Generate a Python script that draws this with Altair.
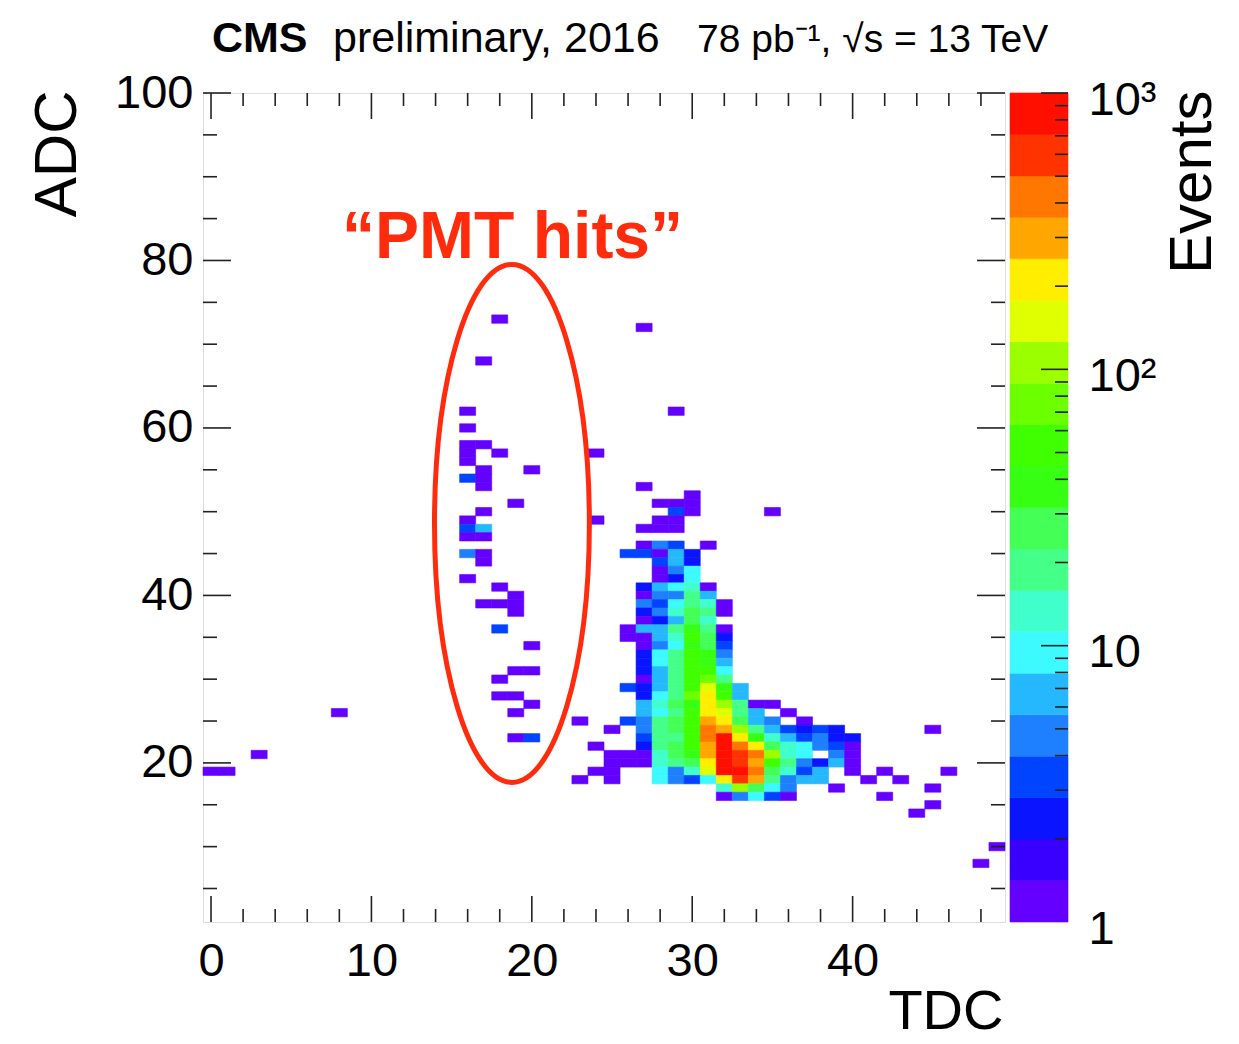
import altair as alt
import pandas as pd

FONT = "Liberation Sans"
RED = "#ff2b0d"
INK = "#222222"

# Occupancy of each (TDC, ADC) bin; one line per ADC row
tdc = [
    18,                                                        # ADC 73
    27,                                                        # 72
    17,                                                        # 68
    16, 29,                                                    # 62
    16,                                                        # 60
    16, 17,                                                    # 58
    16, 18, 24,                                                # 57
    16,                                                        # 56
    17, 20,                                                    # 55
    16, 17,                                                    # 54
    17, 27,                                                    # 53
    30,                                                        # 52
    19, 28, 29, 30,                                            # 51
    17, 29, 30, 35,                                            # 50
    16, 24, 28, 29,                                            # 49
    16, 17, 27, 28, 29,                                        # 48
    16, 17,                                                    # 47
    27, 28, 29, 31,                                            # 46
    16, 17, 26, 27, 28, 29, 30,                                # 45
    17, 28, 29, 30,                                            # 44
    28, 29, 30,                                                # 43
    16, 28, 29, 30,                                            # 42
    18, 27, 28, 29, 30, 31,                                    # 41
    19, 27, 28, 29, 30, 31,                                    # 40
    17, 18, 19, 27, 28, 29, 30, 31, 32,                        # 39
    19, 27, 28, 29, 30, 31, 32,                                # 38
    27, 28, 29, 30, 31,                                        # 37
    18, 26, 27, 28, 29, 30, 31, 32,                            # 36
    26, 27, 28, 29, 30, 31, 32,                                # 35
    20, 27, 28, 29, 30, 31, 32,                                # 34
    27, 28, 29, 30, 31, 32,                                    # 33
    27, 28, 29, 30, 31, 32,                                    # 32
    19, 20, 27, 28, 29, 30, 31, 32,                            # 31
    18, 27, 28, 29, 30, 31, 32,                                # 30
    26, 27, 28, 29, 30, 31, 32, 33,                            # 29
    18, 19, 27, 28, 29, 30, 31, 32, 33,                        # 28
    20, 27, 28, 29, 30, 31, 32, 33, 34, 35,                    # 27
    8, 19, 27, 28, 29, 30, 31, 32, 33, 34, 36,                 # 26
    23, 26, 27, 28, 29, 30, 31, 32, 33, 34, 35, 37,            # 25
    25, 27, 28, 29, 30, 31, 32, 33, 34, 35, 36, 37, 38, 39, 45,            # 24
    19, 20, 27, 28, 29, 30, 31, 32, 33, 34, 35, 36, 37, 38, 39, 40,        # 23
    24, 27, 28, 29, 30, 31, 32, 33, 34, 35, 36, 37, 38, 39, 40,            # 22
    3, 25, 26, 27, 28, 29, 30, 31, 32, 33, 34, 35, 36, 37, 39, 40,         # 21
    25, 26, 27, 28, 29, 30, 31, 32, 33, 34, 35, 36, 37, 38, 39, 40,        # 20
    0, 1, 24, 25, 28, 29, 30, 31, 32, 33, 34, 35, 36, 37, 38, 40, 42, 46,  # 19
    23, 25, 28, 29, 30, 31, 32, 33, 34, 35, 36, 37, 38, 41, 43,            # 18
    32, 33, 34, 35, 36, 39, 45,                                # 17
    32, 33, 34, 35, 36, 42,                                    # 16
    45,                                                        # 15
    44,                                                        # 14
    49,                                                        # 10
    48,                                                        # 8
]

adc = (
    [73] * 1 + [72] * 1 + [68] * 1 + [62] * 2 + [60] * 1 + [58] * 2 + [57] * 3
    + [56] * 1 + [55] * 2 + [54] * 2 + [53] * 2 + [52] * 1 + [51] * 4 + [50] * 4
    + [49] * 4 + [48] * 5 + [47] * 2 + [46] * 4 + [45] * 7 + [44] * 4 + [43] * 3
    + [42] * 4 + [41] * 6 + [40] * 6 + [39] * 9 + [38] * 7 + [37] * 5 + [36] * 8
    + [35] * 7 + [34] * 7 + [33] * 6 + [32] * 6 + [31] * 8 + [30] * 7 + [29] * 8
    + [28] * 9 + [27] * 10 + [26] * 11 + [25] * 12 + [24] * 15 + [23] * 16
    + [22] * 15 + [21] * 16 + [20] * 16 + [19] * 18 + [18] * 15 + [17] * 7
    + [16] * 6 + [15] * 1 + [14] * 1 + [10] * 1 + [8] * 1
)

events = [
    1,                                                         # ADC 73
    1,                                                         # 72
    1,                                                         # 68
    1, 1,                                                      # 62
    1,                                                         # 60
    1, 1,                                                      # 58
    1, 1, 1,                                                   # 57
    1,                                                         # 56
    1, 1,                                                      # 55
    3, 1,                                                      # 54
    1, 1,                                                      # 53
    1,                                                         # 52
    1, 1, 1, 1,                                                # 51
    1, 3, 1, 1,                                                # 50
    1, 1, 1, 1,                                                # 49
    3, 7, 1, 1, 1,                                             # 48
    1, 1,                                                      # 47
    1, 5, 3, 1,                                                # 46
    4, 1, 3, 3, 1, 7, 2,                                       # 45
    1, 3, 7, 2,                                                # 44
    1, 5, 8,                                                   # 43
    1, 1, 2, 10,                                               # 42
    1, 2, 6, 8, 13, 1,                                         # 41
    1, 1, 5, 4, 19, 7,                                         # 40
    1, 1, 1, 5, 3, 10, 19, 13, 1,                              # 39
    1, 2, 4, 13, 27, 19, 1,                                    # 38
    1, 2, 7, 27, 13,                                           # 37
    3, 1, 6, 6, 19, 38, 19, 1,                                 # 36
    1, 1, 7, 13, 45, 27, 2,                                    # 35
    1, 1, 5, 8, 38, 27, 3,                                     # 34
    2, 10, 16, 50, 38, 5,                                      # 33
    2, 10, 19, 54, 38, 7,                                      # 32
    1, 1, 2, 7, 16, 50, 54, 10,                                # 31
    1, 1, 7, 19, 54, 76, 19,                                   # 30
    3, 2, 6, 19, 50, 150, 38, 6,                               # 29
    1, 1, 2, 10, 19, 76, 210, 54, 7,                           # 28
    1, 6, 13, 27, 38, 210, 105, 19, 1, 1,                      # 27
    1, 1, 6, 10, 19, 54, 250, 150, 19, 7, 1,                   # 26
    1, 3, 5, 19, 27, 54, 300, 210, 27, 7, 5, 1,                # 25
    1, 5, 19, 27, 54, 420, 300, 105, 19, 7, 3, 2, 3, 2, 1,                 # 24
    1, 3, 3, 19, 19, 54, 420, 850, 210, 38, 13, 7, 3, 5, 2, 2,             # 23
    1, 2, 19, 27, 54, 300, 850, 420, 210, 27, 13, 10, 5, 3, 1,             # 22
    1, 1, 1, 1, 13, 27, 38, 300, 850, 600, 420, 105, 13, 10, 4, 1,         # 21
    1, 1, 1, 13, 19, 27, 210, 850, 600, 300, 54, 19, 5, 2, 7, 1,           # 20
    1, 1, 1, 1, 10, 5, 13, 150, 850, 850, 420, 27, 13, 3, 6, 1, 1, 1,      # 19
    1, 1, 10, 5, 3, 10, 210, 600, 300, 19, 5, 7, 7, 1, 1,                  # 18
    13, 105, 27, 10, 5, 1, 1,                                  # 17
    1, 5, 10, 3, 1, 1,                                         # 16
    1,                                                         # 15
    1,                                                         # 14
    1,                                                         # 10
    1,                                                         # 8
]

hist = pd.DataFrame({"TDC": tdc, "ADC": adc, "Events": events})

# 20 log-spaced colour contours between 1 and 10^3 (violet -> red)
palette = [
    "#6300ff", "#3a00ff", "#0a14ff", "#0044ff", "#1e80ff",
    "#26b8ff", "#3cfaff", "#40ffcc", "#44ff88", "#44ff55",
    "#36ff14", "#40ff00", "#6cff00", "#9cff00", "#e0ff00",
    "#ffee00", "#ffa700", "#ff7700", "#ff3300", "#ff0f00",
]
levels = [10 ** (0.15 * k) for k in range(1, 20)]
z_scale = alt.Scale(type="threshold", domain=levels, range=palette)

# axis tick positions
x_major = [0, 10, 20, 30, 40]
x_minor = [v for v in range(2, 50, 2) if v % 10]
y_major = [20, 40, 60, 80, 100]
y_minor = [v for v in range(5, 100, 5) if v % 20]
z_major = [10, 100, 1000]
z_minor = [2, 3, 4, 5, 6, 7, 8, 9, 20, 30, 40, 50, 60, 70, 80, 90,
           200, 300, 400, 500, 600, 700, 800, 900]

W, H = 802, 829

x_scale = alt.Scale(domain=[-0.5, 49.5], nice=False, zero=False)
y_scale = alt.Scale(domain=[1, 100], nice=False, zero=False)

x_axis = alt.Axis(
    values=x_major, ticks=False, domain=False, grid=False,
    labelFont=FONT, labelFontSize=47, labelPadding=16, labelColor="black",
    labelFlush=False,
    title="TDC", titleFont=FONT, titleFontSize=56, titleFontWeight="normal",
    titleColor="black", titleX=800, titleY=106, titleAlign="right",
    titleBaseline="alphabetic",
)
y_axis = alt.Axis(
    values=y_major, ticks=False, domain=False, grid=False,
    labelFont=FONT, labelFontSize=47, labelPadding=10, labelColor="black",
    labelFlush=False, labelAlign="right", labelBaseline="middle",
    title="ADC", titleFont=FONT, titleFontSize=60, titleFontWeight="normal",
    titleColor="black", titleAngle=270, titleX=-128, titleY=-3,
    titleAlign="right", titleBaseline="alphabetic",
)

X = lambda f: alt.X(f, scale=x_scale, axis=x_axis)
Y = lambda f: alt.Y(f, scale=y_scale, axis=y_axis)

cells = alt.Chart(hist).transform_calculate(
    x0="datum.TDC - 0.5", x1="datum.TDC + 0.5",
    y0="datum.ADC - 0.5", y1="datum.ADC + 0.5",
).mark_rect(strokeWidth=0.6).encode(
    x=X("x0:Q"), x2="x1:Q",
    y=Y("y0:Q"), y2="y1:Q",
    color=alt.Color("Events:Q", scale=z_scale, legend=None),
    stroke=alt.Stroke("Events:Q", scale=z_scale, legend=None),
)


def x_ticks(values, length):
    df = pd.DataFrame({"v": values})
    base = alt.Chart(df).mark_rule(color=INK, strokeWidth=1.6)
    bottom = base.encode(x=X("v:Q"), y=alt.value(H), y2=alt.value(H - length))
    top = base.encode(x=X("v:Q"), y=alt.value(0), y2=alt.value(length))
    return [bottom, top]


def y_ticks(values, length):
    df = pd.DataFrame({"v": values})
    base = alt.Chart(df).mark_rule(color=INK, strokeWidth=1.6)
    left = base.encode(y=Y("v:Q"), x=alt.value(0), x2=alt.value(length))
    right = base.encode(y=Y("v:Q"), x=alt.value(W - length), x2=alt.value(W))
    return [left, right]


# highlighted group of hits
ELLIPSE = "M -0.299 0 A 0.299 1 0 1 0 0.299 0 A 0.299 1 0 1 0 -0.299 0 Z"
ring = alt.Chart(pd.DataFrame({"TDC": [18.76], "ADC": [48.6]})).mark_point(
    shape=ELLIPSE, size=268324, filled=False, color=RED, strokeWidth=5, opacity=1
).encode(x=X("TDC:Q"), y=Y("ADC:Q"))

tag = alt.Chart(pd.DataFrame({"TDC": [18.8], "ADC": [80.3], "txt": ["\u201cPMT hits\u201d"]})).mark_text(
    font=FONT, fontSize=66, fontWeight="bold", color=RED, align="center",
    baseline="alphabetic",
).encode(x=X("TDC:Q"), y=Y("ADC:Q"), text="txt:N")


def headline(text, x, size, weight):
    return alt.Chart(pd.DataFrame({"txt": [text]})).mark_text(
        font=FONT, fontSize=size, fontWeight=weight, color="black",
        align="left", baseline="alphabetic",
    ).encode(x=alt.value(x), y=alt.value(-41), text="txt:N")


main = alt.layer(
    cells,
    *x_ticks(x_major, 26), *x_ticks(x_minor, 13),
    *y_ticks(y_major, 28), *y_ticks(y_minor, 14),
    ring, tag,
    headline("CMS", 9, 43, "bold"),
    headline("preliminary, 2016", 130, 43, "normal"),
    headline("78 pb\u207b\u00b9, \u221as = 13 TeV", 494, 39, "normal"),
)

# colour bar
edges = [1.0] + levels + [1000.0]
bands = pd.DataFrame({"lo": edges[:-1], "hi": edges[1:]})
bands["mid"] = (bands["lo"] * bands["hi"]) ** 0.5

z_pos = alt.Scale(type="log", domain=[1, 1000], nice=False)
z_axis = alt.Axis(
    orient="right", values=[1, 10, 100, 1000], ticks=False, domain=False,
    grid=False,
    labelExpr="datum.value > 500 ? '10\u00b3' : datum.value > 50 ? '10\u00b2' : datum.value > 5 ? '10' : '1'",
    labelFont=FONT, labelFontSize=47, labelPadding=83, labelOffset=7,
    labelAlign="left", labelBaseline="middle", labelFlush=False,
    labelColor="black",
    title="Events", titleFont=FONT, titleFontSize=60, titleFontWeight="normal",
    titleColor="black", titleAngle=270, titleX=205, titleY=-3,
    titleAlign="right", titleBaseline="alphabetic",
)

bar = alt.Chart(bands).mark_rect(strokeWidth=0.6).encode(
    y=alt.Y("lo:Q", scale=z_pos, axis=z_axis), y2="hi:Q",
    x=alt.value(807), x2=alt.value(865),
    color=alt.Color("mid:Q", scale=z_scale, legend=None),
    stroke=alt.Stroke("mid:Q", scale=z_scale, legend=None),
)


def z_ticks(values, length):
    return alt.Chart(pd.DataFrame({"v": values})).mark_rule(
        color=INK, strokeWidth=1.6
    ).encode(
        y=alt.Y("v:Q", scale=z_pos, axis=z_axis),
        x=alt.value(865 - length), x2=alt.value(865),
    )


colorbar = alt.layer(bar, z_ticks(z_major, 27), z_ticks(z_minor, 13))

chart = alt.layer(main, colorbar).resolve_scale(
    y="independent", color="independent", stroke="independent"
).properties(
    width=W, height=H,
    autosize=alt.AutoSizeParams(type="none"),
    padding={"left": 203, "top": 93, "right": 234, "bottom": 122},
    background="white",
).configure_view(
    stroke="#333333", strokeWidth=2
).configure(font=FONT)

chart.save("out.html", embed_options={"renderer": "svg", "actions": False})
